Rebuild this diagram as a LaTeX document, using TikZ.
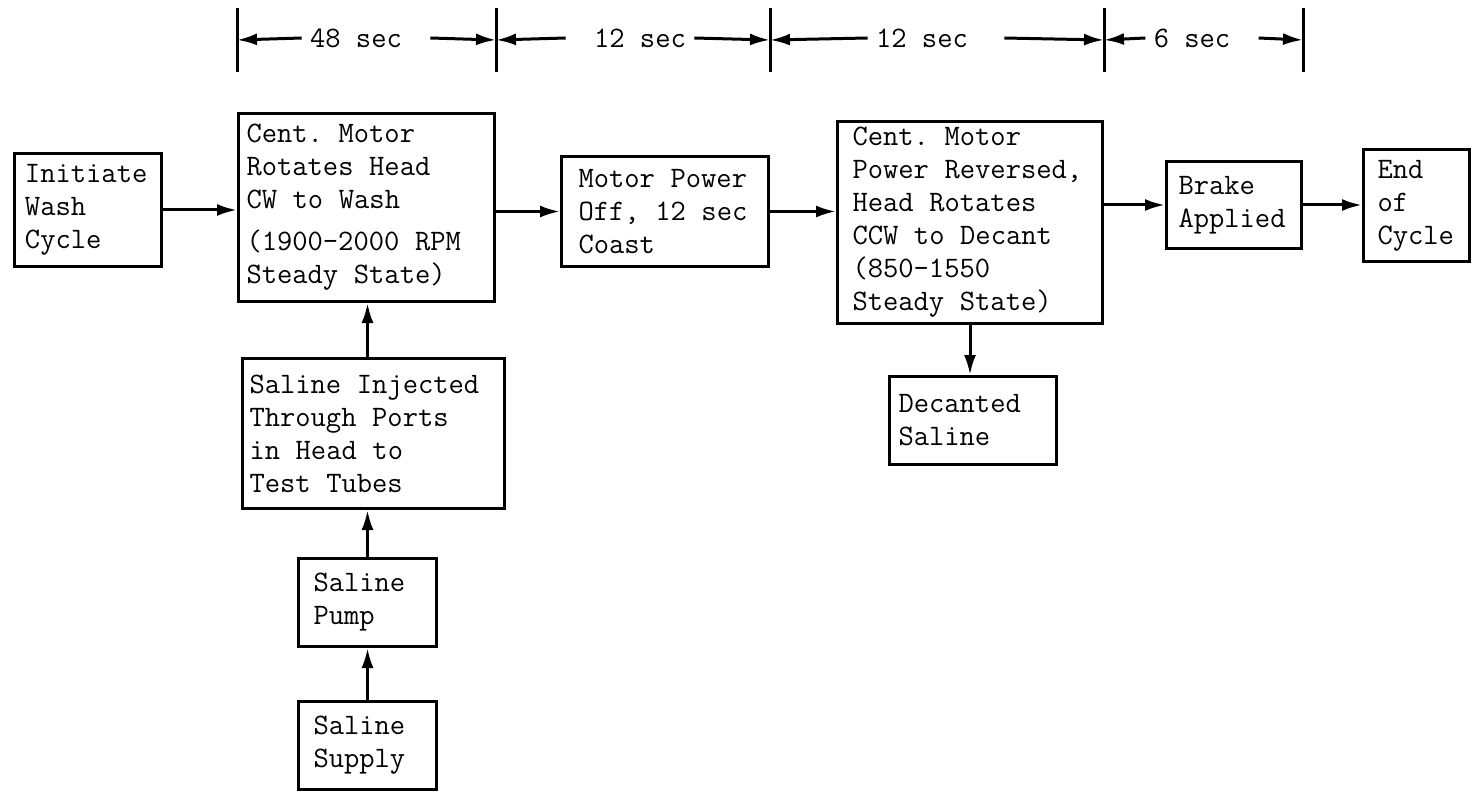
\documentclass[tikz,border=0pt]{standalone}
\usepackage{fontspec}
\usetikzlibrary{arrows.meta}
\newcommand\typewr{\ttfamily\fontsize{14.85pt}{16.5pt}\selectfont}
\tikzset{
    blk/.style={draw, line width=1.5pt, align=left, inner ysep=0pt, anchor=north west, font=\typewr,
        execute at begin node={\spaceskip=7.8pt\xspaceskip=7.8pt\relax}},
    flow/.style={line width=1.5pt, -{Latex[length=10pt,width=6pt]}},
    dur/.style={font=\typewr, inner xsep=4pt},
}
\begin{document}
\begin{tikzpicture}[x=0.5pt,y=-0.5pt]
    \useasboundingbox (0,0) rectangle (1480,797);
    \node[blk, text width=63pt, inner xsep=5.25pt, minimum height=56.5pt] (init) at (13,152) {Initiate\\Wash\\Cycle};
    \node[blk, text width=120pt, inner xsep=4pt, minimum height=94pt] (cent) at (237,112)
        {Cent. Motor\\Rotates Head\\CW to Wash\\[4.5pt](1900-2000 RPM\\Steady State)};
    \node[blk, text width=86.5pt, inner xsep=8.5pt, minimum height=55pt] (motor) at (560,155) {Motor Power\\Off, 12 sec\\Coast};
    \node[blk, text width=117.5pt, inner xsep=7.5pt, minimum height=101pt] (decant) at (836,120)
        {Cent. Motor\\Power Reversed,\\Head Rotates\\CCW to Decant\\(850-1550\\Steady State)};
    \node[blk, text width=55.5pt, inner xsep=6pt, minimum height=43.5pt] (brake) at (1165,160) {Brake\\Applied};
    \node[blk, text width=39pt, inner xsep=7pt, minimum height=56pt] (end) at (1362,148) {End\\of\\Cycle};
    \node[blk, text width=74.5pt, inner xsep=4.5pt, minimum height=44pt] (decanted) at (888,375) {Decanted\\Saline};
    \node[blk, text width=124pt, inner xsep=3.5pt, minimum height=75pt] (inj) at (241,357)
        {Saline Injected\\Through Ports\\in Head to\\Test Tubes};
    \node[blk, text width=54pt, inner xsep=7.5pt, minimum height=44pt] (pump) at (297,557) {Saline\\Pump};
    \node[blk, text width=54pt, inner xsep=7.5pt, minimum height=44pt] (supply) at (297,700) {Saline\\Supply};

    \draw[flow] (init.east) -- (init.east -| cent.west);
    \draw[flow] (cent.east |- motor.west) -- (motor.west);
    \draw[flow] (motor.east) -- (motor.east -| decant.west);
    \draw[flow] (decant.east |- brake.west) -- (brake.west);
    \draw[flow] (brake.east) -- (brake.east -| end.west);
    \draw[flow] (decant.south) -- (decant.south |- decanted.north);
    \draw[flow] (supply.north) -- (pump.south);
    \draw[flow] (pump.north) -- (pump.north |- inj.south);
    \draw[flow] (pump.north |- inj.north) -- (pump.north |- cent.south);

    \coordinate (t0) at (cent.north west |- 0,40);
    \coordinate (t1) at (cent.north east |- 0,40);
    \coordinate (t2) at (motor.north east |- 0,40);
    \coordinate (t3) at (decant.north east |- 0,40);
    \coordinate (t4) at (brake.north east |- 0,40);
    \foreach \t in {t0,t1,t2,t3,t4}
        \draw[line width=1.5pt] ([yshift=16pt]\t) -- ([yshift=-16pt]\t);
    \node[dur] (d1) at (356,38) {48 sec};
    \node[dur] (d2) at (640,38) {12 sec};
    \node[dur] (d3) at (922,38) {12 sec};
    \node[dur] (d4) at (1192,38) {6 sec};
    \draw[flow] (d1.west) -- (t0);
    \draw[flow] ([xshift=10pt]d1.east) -- (t1);
    \draw[flow] ([xshift=-10pt]d2.west) -- (t1);
    \draw[flow] (d2.east) -- (t2);
    \draw[flow] (d3.west) -- (t2);
    \draw[flow] ([xshift=14pt]d3.east) -- (t3);
    \draw[flow] (d4.west) -- (t3);
    \draw[flow] ([xshift=10pt]d4.east) -- (t4);
\end{tikzpicture}
\end{document}
